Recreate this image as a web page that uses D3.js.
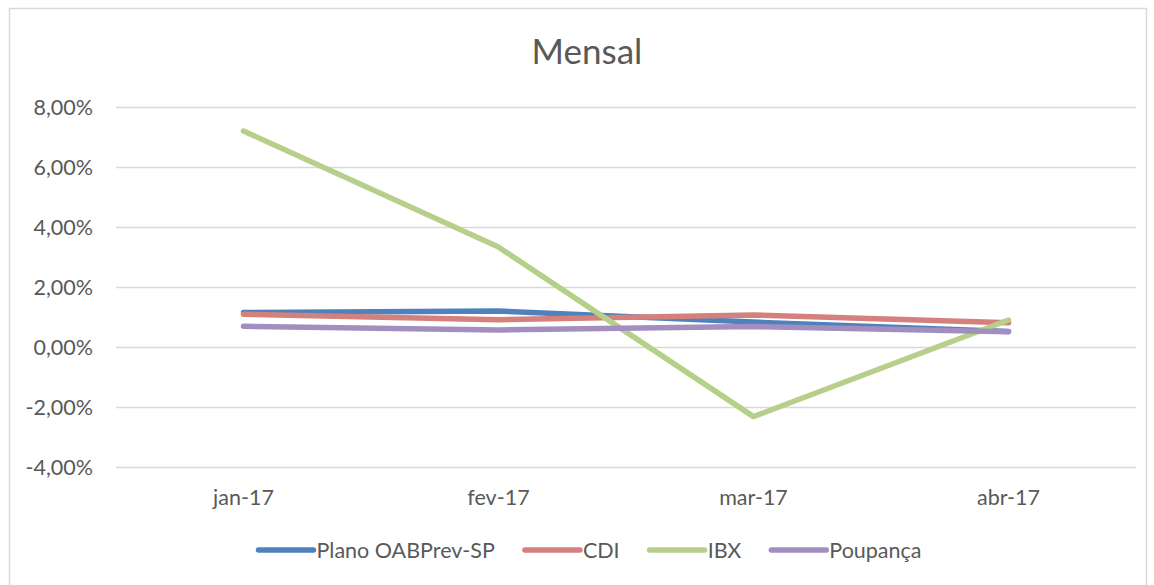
<!DOCTYPE html>
<html>
<head>
<meta charset="utf-8">
<script src="https://cdn.jsdelivr.net/npm/d3@7"></script>
<style>
  body { margin: 0; background: #fff; }
  text { font-family: Lato, "Open Sans", sans-serif; fill: #595959; }
</style>
</head>
<body>
<div id="chart"></div>
<script>
var width = 1154;
var height = 585;

var months = ["jan-17", "fev-17", "mar-17", "abr-17"];
var seriesNames = ["Plano OABPrev-SP", "CDI", "IBX", "Poupança"];
var plano = [1.15, 1.2, 0.83, 0.52];
var cdi = [1.09, 0.91, 1.07, 0.81];
var ibx = [7.2, 3.33, -2.32, 0.9];
var poupanca = [0.69, 0.57, 0.68, 0.51];
var yTicks = [-4, -2, 0, 2, 4, 6, 8];
var colors = ["#4f81bd", "#d4807c", "#b6cf8b", "#a28fc0"];

var allSeries = [plano, cdi, ibx, poupanca];

var svg = d3.select("#chart")
  .append("svg")
    .attr("width", width)
    .attr("height", height);

// chart border
svg.append("rect")
  .attr("x", 9.5).attr("y", 8.5)
  .attr("width", 1137).attr("height", 600)
  .attr("fill", "none")
  .attr("stroke", "#d9d9d9")
  .attr("stroke-width", 1.5);

svg.append("text")
  .attr("x", 587).attr("y", 64)
  .attr("text-anchor", "middle")
  .style("font-size", "35px")
  .text("Mensal");

var x = d3.scaleBand().domain(months).range([116, 1136]);
var y = d3.scaleLinear().domain([-4, 8]).range([467, 107]);

var grid = svg.append("g");
grid.selectAll("line").data(yTicks).enter().append("line")
  .attr("x1", 116).attr("x2", 1136)
  .attr("y1", d => Math.round(y(d)) + 0.5)
  .attr("y2", d => Math.round(y(d)) + 0.5)
  .attr("stroke", "#d9d9d9")
  .attr("stroke-width", 1.5);

grid.selectAll("text").data(yTicks).enter().append("text")
  .attr("x", 93).attr("y", d => y(d))
  .attr("dy", "0.35em")
  .attr("text-anchor", "end")
  .style("font-size", "21.5px")
  .text(d => (d < 0 ? "-" : "") + d3.format(".2f")(Math.abs(d)).replace(".", ",") + "%");

svg.append("g").selectAll("text").data(months).enter().append("text")
  .attr("x", d => x(d) + x.bandwidth() / 2)
  .attr("y", 505)
  .attr("text-anchor", "middle")
  .style("font-size", "21.5px")
  .text(d => d);

var line = d3.line()
  .x((d, i) => x(months[i]) + x.bandwidth() / 2)
  .y(d => y(d));

svg.append("g").selectAll("path").data(allSeries).enter().append("path")
  .attr("d", line)
  .attr("fill", "none")
  .attr("stroke", (d, i) => colors[i])
  .attr("stroke-width", 5.5)
  .attr("stroke-linecap", "round")
  .attr("stroke-linejoin", "round");

// legend, centred under the plot
var legend = svg.append("g");
var items = legend.selectAll("g").data(seriesNames).enter().append("g");
items.append("line")
  .attr("x1", 0).attr("x2", 55)
  .attr("stroke", (d, i) => colors[i])
  .attr("stroke-width", 5.5)
  .attr("stroke-linecap", "round");
items.append("text")
  .attr("x", 58).attr("dy", "0.35em")
  .style("font-size", "21.5px")
  .text(d => d);

var pos = 0;
var offsets = [];
items.each(function() {
  offsets.push(pos);
  pos += 58 + d3.select(this).select("text").node().getComputedTextLength() + 30;
});
var total = pos - 30;
var start = 590 - total / 2;
items.attr("transform", (d, i) => `translate(${start + offsets[i]}, 550)`);
</script>
</body>
</html>
